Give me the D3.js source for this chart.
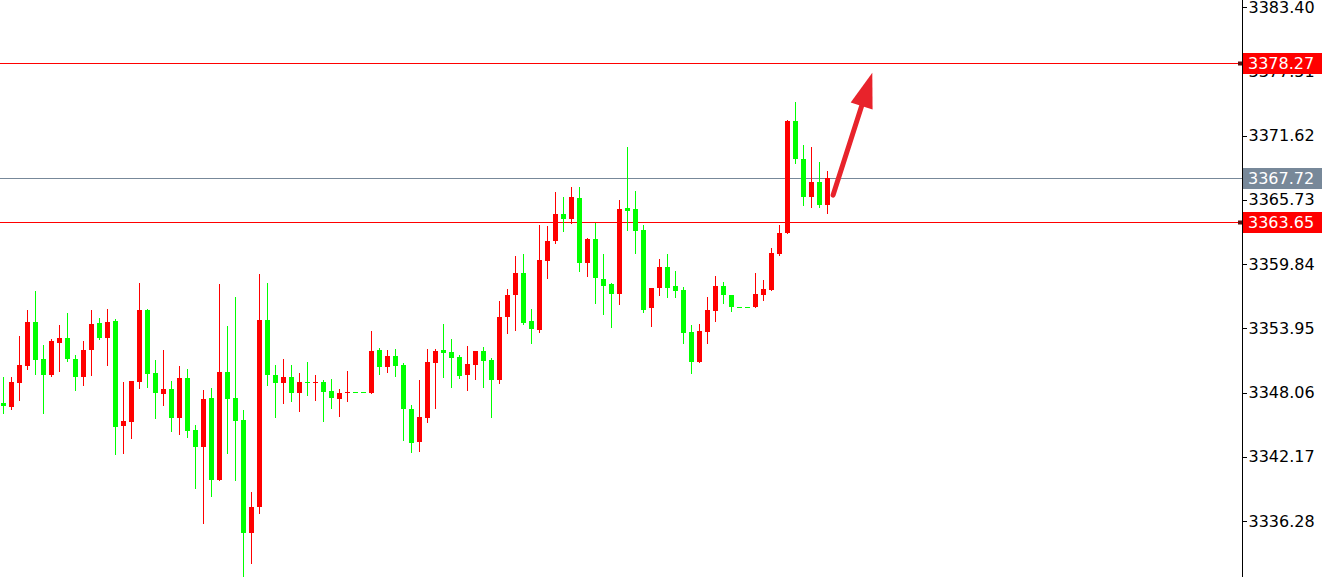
<!DOCTYPE html>
<html>
<head>
<meta charset="utf-8">
<script src="https://cdn.jsdelivr.net/npm/d3@7"></script>
<style>
  html, body { margin: 0; padding: 0; background: #fff; }
  svg { display: block; }
  text { font-family: "DejaVu Sans", Verdana, sans-serif; }
</style>
</head>
<body>
<svg id="chart" width="1322" height="577"></svg>
<script>
// ---- data ----
const opens  = [3347.12,3346.76,3348.96,3350.49,3354.52,3351.10,3349.63,3352.62,3353.05,3351.16,
                3349.45,3351.95,3354.40,3353.05,3354.64,3344.99,3345.35,3349.05,3355.62,3349.82,
                3347.95,3348.38,3345.69,3349.39,3344.62,3343.09,3347.55,3340.04,3349.94,3347.55,
                3345.54,3335.20,3337.53,3354.70,3349.66,3348.90,3349.45,3348.04,3349.02,3348.90,
                3349.02,3348.22,3347.49,3347.98,3348.10,3348.10,3348.04,3351.95,3350.42,3351.40,
                3350.58,3346.52,3343.55,3345.69,3350.79,3351.95,3351.77,3351.34,3349.69,3350.61,
                3351.89,3351.04,3349.20,3354.95,3357.00,3359.04,3354.64,3353.79,3360.14,3361.92,
                3364.42,3363.94,3365.86,3359.96,3362.10,3358.44,3358.00,3357.09,3364.97,3364.85,
                3362.96,3355.78,3357.61,3359.59,3357.82,3357.45,3353.60,3350.88,3353.63,3355.56,
                3357.82,3357.00,3355.92,3355.92,3355.87,3357.00,3357.45,3360.75,3362.65,3372.95,
                3369.44,3366.01,3367.36,3365.25];
const highs  = [3349.45,3349.45,3353.24,3355.62,3357.39,3352.38,3352.93,3354.22,3355.32,3351.47,
                3352.81,3355.62,3354.89,3355.68,3354.82,3349.02,3349.14,3358.12,3355.68,3351.04,
                3351.95,3349.11,3350.49,3350.18,3345.08,3348.29,3348.44,3358.00,3354.15,3356.79,
                3346.45,3338.94,3358.89,3358.07,3350.58,3351.10,3350.55,3349.82,3350.88,3349.63,
                3349.20,3349.27,3348.41,3350.06,3348.10,3348.10,3353.72,3352.11,3351.95,3352.02,
                3350.73,3346.91,3349.20,3352.02,3352.02,3354.34,3352.93,3351.50,3352.32,3351.89,
                3352.20,3351.19,3356.47,3357.52,3360.57,3360.75,3355.68,3363.41,3363.32,3366.44,
                3366.01,3366.87,3366.92,3362.19,3363.62,3360.75,3358.12,3365.71,3370.59,3366.56,
                3363.41,3357.61,3360.27,3360.75,3359.22,3357.76,3354.25,3354.34,3356.79,3358.74,
                3358.22,3357.00,3355.92,3355.92,3358.99,3358.37,3361.28,3363.41,3373.04,3374.72,
                3370.75,3370.59,3369.22,3368.39];
const lows   = [3346.15,3346.52,3347.37,3350.24,3349.75,3346.15,3349.57,3350.06,3350.97,3348.29,
                3348.72,3349.69,3352.99,3350.61,3342.42,3342.48,3343.89,3348.44,3348.53,3345.69,
                3346.91,3344.56,3344.23,3344.01,3339.33,3336.12,3338.57,3340.04,3342.54,3340.04,
                3331.17,3332.45,3337.04,3348.75,3345.84,3347.12,3347.31,3346.39,3347.83,3347.37,
                3345.47,3346.64,3345.90,3347.31,3348.10,3348.10,3348.04,3349.75,3349.96,3349.57,
                3343.70,3342.63,3342.72,3345.38,3346.61,3349.45,3348.53,3349.36,3348.29,3349.32,
                3348.59,3345.78,3348.96,3353.54,3353.79,3354.34,3352.62,3353.63,3358.58,3361.79,
                3362.89,3363.57,3359.22,3358.74,3356.29,3355.25,3354.09,3356.17,3362.96,3360.82,
                3355.46,3354.15,3357.00,3356.84,3356.79,3352.57,3349.82,3350.88,3352.57,3354.64,
                3356.29,3355.56,3355.92,3355.92,3355.87,3356.54,3357.45,3360.66,3362.65,3369.07,
                3365.25,3365.09,3365.09,3364.49];
const closes = [3346.82,3349.02,3350.55,3354.52,3351.04,3349.69,3352.81,3353.05,3351.16,3349.51,
                3351.95,3354.34,3353.05,3354.52,3344.92,3345.42,3349.14,3355.62,3349.73,3347.98,
                3348.38,3345.69,3349.39,3344.56,3343.09,3347.46,3340.04,3349.94,3347.49,3345.47,
                3335.20,3337.53,3354.70,3349.63,3348.90,3349.45,3347.98,3349.02,3348.90,3349.02,
                3348.13,3347.55,3347.98,3348.10,3348.10,3348.10,3351.86,3350.42,3351.40,3350.49,
                3346.52,3343.46,3345.78,3350.88,3351.89,3351.71,3351.22,3349.57,3350.67,3351.83,
                3350.97,3349.20,3355.01,3357.00,3359.04,3354.46,3353.85,3360.20,3361.97,3364.42,
                3363.94,3365.95,3359.96,3362.10,3358.53,3357.82,3357.09,3364.85,3364.72,3362.89,
                3355.62,3357.61,3359.59,3357.67,3357.39,3353.48,3350.88,3353.70,3355.62,3357.82,
                3356.97,3355.87,3355.92,3355.92,3357.09,3357.52,3360.82,3362.65,3372.97,3369.44,
                3366.01,3367.36,3365.22,3367.72];

const tickValues = [3383.40, 3377.51, 3371.62, 3365.73, 3359.84, 3353.95, 3348.06, 3342.17, 3336.28];

const levelValues = [3378.27, 3367.72, 3363.65];
const levelKinds  = ["resistance", "bid", "support"];

// arrow annotation: [bar index, price] start and tip
const arrowFrom = [103.7, 3366.16];
const arrowTo   = [108.6, 3377.38];

// ---- layout ----
const W = 1322, H = 577;
const axisX = 1242;
const UP = "#ff0000", DOWN = "#00ff00";

const svg = d3.select("#chart");

const y = d3.scaleLinear().domain([3336.28, 3383.40]).range([521, 7]);
const x = d3.scaleLinear().domain([0, 103]).range([3, 827]);

const bars = opens.map((o, i) => ({ i, o, h: highs[i], l: lows[i], c: closes[i] }));

// levels (lines)
const levels = levelValues.map((v, k) => ({ v, kind: levelKinds[k] }));
const levelColor = d => d.kind === "bid" ? "#778899" : "#ff0000";

svg.append("g").selectAll("line").data(levels).join("line")
  .attr("x1", 0).attr("x2", axisX)
  .attr("y1", d => Math.round(y(d.v)) + 0.5)
  .attr("y2", d => Math.round(y(d.v)) + 0.5)
  .attr("stroke", levelColor).attr("stroke-width", 1)
  .attr("shape-rendering", "crispEdges");

// candles
const g = svg.append("g").attr("shape-rendering", "crispEdges");
const col = d => d.c > d.o ? UP : DOWN;

g.selectAll("line.wick").data(bars).join("line")
  .attr("class", "wick")
  .attr("x1", d => x(d.i) + 0.5).attr("x2", d => x(d.i) + 0.5)
  .attr("y1", d => Math.round(y(d.h))).attr("y2", d => Math.round(y(d.l)) + 1)
  .attr("stroke", col).attr("stroke-width", 1);

g.selectAll("rect.body").data(bars).join("rect")
  .attr("class", "body")
  .attr("x", d => x(d.i) - 2)
  .attr("width", 5)
  .attr("y", d => Math.round(y(Math.max(d.o, d.c))))
  .attr("height", d => Math.max(1, Math.round(y(Math.min(d.o, d.c))) - Math.round(y(Math.max(d.o, d.c)))))
  .attr("fill", col);

// arrow
const ax0 = x(arrowFrom[0]) + 0.5, ay0 = y(arrowFrom[1]);
const ax1 = x(arrowTo[0]) + 0.5,   ay1 = y(arrowTo[1]);
const dx = ax1 - ax0, dy = ay1 - ay0, len = Math.hypot(dx, dy);
const ux = dx / len, uy = dy / len, px = -uy, py = ux;
const headLen = 35, headHalf = 11.5;
const bx = ax1 - ux * headLen, by = ay1 - uy * headLen;
const arrowColor = "#e8232b";
svg.append("line")
  .attr("x1", ax0).attr("y1", ay0)
  .attr("x2", bx + ux * 4).attr("y2", by + uy * 4)
  .attr("stroke", arrowColor).attr("stroke-width", 5).attr("stroke-linecap", "round");
svg.append("path")
  .attr("d", d3.line()([[ax1, ay1], [bx + px * headHalf, by + py * headHalf], [bx - px * headHalf, by - py * headHalf]]) + "Z")
  .attr("fill", arrowColor);

// axis
svg.append("line")
  .attr("x1", axisX + 0.5).attr("x2", axisX + 0.5)
  .attr("y1", 0).attr("y2", H)
  .attr("stroke", "#000").attr("shape-rendering", "crispEdges");

const axisG = svg.append("g")
  .attr("transform", `translate(${axisX + 0.5},0)`)
  .call(d3.axisRight(y).tickValues(tickValues).tickSize(4).tickSizeOuter(0).tickPadding(2)
        .tickFormat(d3.format(".2f")));
axisG.select(".domain").remove();
axisG.selectAll(".tick line").attr("stroke", "#000").attr("shape-rendering", "crispEdges");
axisG.selectAll(".tick text")
  .attr("font-family", "DejaVu Sans, Verdana, sans-serif")
  .attr("font-size", 16).attr("fill", "#000");
axisG.attr("font-family", null).attr("font-size", null);

// level labels on axis
const lab = svg.append("g");
lab.selectAll("rect.marker").data(levels.filter(d => d.kind !== "bid")).join("rect")
  .attr("class", "marker")
  .attr("x", axisX - 4).attr("width", 4)
  .attr("y", d => Math.round(y(d.v)) - 1.5).attr("height", 4)
  .attr("fill", "#5a1010");
lab.selectAll("rect.box").data(levels).join("rect")
  .attr("class", "box")
  .attr("x", axisX + 1).attr("width", W - axisX - 1)
  .attr("y", d => Math.round(y(d.v)) - 10).attr("height", 21)
  .attr("fill", d => d.kind === "bid" ? "#778899" : "#ff0000");
lab.selectAll("text").data(levels).join("text")
  .attr("x", axisX + 6)
  .attr("y", d => Math.round(y(d.v)) + 0.5)
  .attr("dy", "0.36em")
  .attr("font-size", 16).attr("fill", "#fff")
  .text(d => d3.format(".2f")(d.v));
</script>
</body>
</html>
